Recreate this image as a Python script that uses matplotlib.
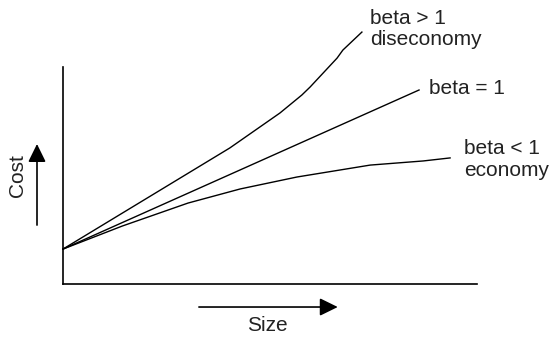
import matplotlib
matplotlib.use("Agg")
import matplotlib.pyplot as plt

plt.rcParams['font.family'] = ['Liberation Sans', 'DejaVu Sans']

# Кривые стоимости от размера (условные единицы, оси 0..100)
size_dis = [0, 40.3, 52.4, 57.7, 59.7, 66.2, 67.6, 72.2]
cost_dis = [16.1, 62.7, 78.8, 87.1, 90.8, 104.1, 107.8, 116.1]

size_lin = [0, 86.0]
cost_lin = [16.1, 89.4]

size_eco = [0, 14.3, 30.2, 42.8, 56.5, 74.2, 87.0, 93.5]
cost_eco = [16.1, 26.7, 37.3, 43.8, 49.3, 54.8, 56.7, 58.1]

labels = ["beta > 1\ndiseconomy", "beta = 1", "beta < 1\neconomy"]
label_pos = [(74.2, 117.5), (88.4, 89.9), (96.9, 57.4)]

fig = plt.figure(figsize=(5.51, 3.40), dpi=100)
ax = fig.add_axes([63 / 551, 56 / 340, 414 / 551, 217 / 340])
ax.set_xlim(0, 100)
ax.set_ylim(0, 100)

for xs, ys in [(size_dis, cost_dis), (size_lin, cost_lin), (size_eco, cost_eco)]:
    ax.plot(xs, ys, color='black', lw=1.0, clip_on=False)

for txt, (tx, ty) in zip(labels, label_pos):
    ax.text(tx, ty, txt, fontsize=15, color='#222222', ha='left', va='center',
            linespacing=1.15, clip_on=False)

# Оси без делений
ax.spines['top'].set_visible(False)
ax.spines['right'].set_visible(False)
for s in ['left', 'bottom']:
    ax.spines[s].set_linewidth(1.2)
ax.set_xticks([])
ax.set_yticks([])

# Стрелки "Cost" и "Size"
arrow = dict(arrowstyle='-|>,head_length=0.55,head_width=0.27', mutation_scale=20,
             lw=1.2, color='black', shrinkA=0, shrinkB=0)
ax.annotate('', xy=(37 / 551, 0.5765), xytext=(37 / 551, 0.338),
            xycoords='figure fraction', textcoords='figure fraction', arrowprops=arrow)
ax.annotate('', xy=(0.613, 0.097), xytext=(0.361, 0.097),
            xycoords='figure fraction', textcoords='figure fraction', arrowprops=arrow)

fig.text(0.031, 0.485, "Cost", rotation=90, fontsize=15, color='#222222',
         ha='center', va='center')
fig.text(0.486, 0.044, "Size", fontsize=15, color='#222222', ha='center', va='center')

fig.savefig("out.png", dpi=100)
